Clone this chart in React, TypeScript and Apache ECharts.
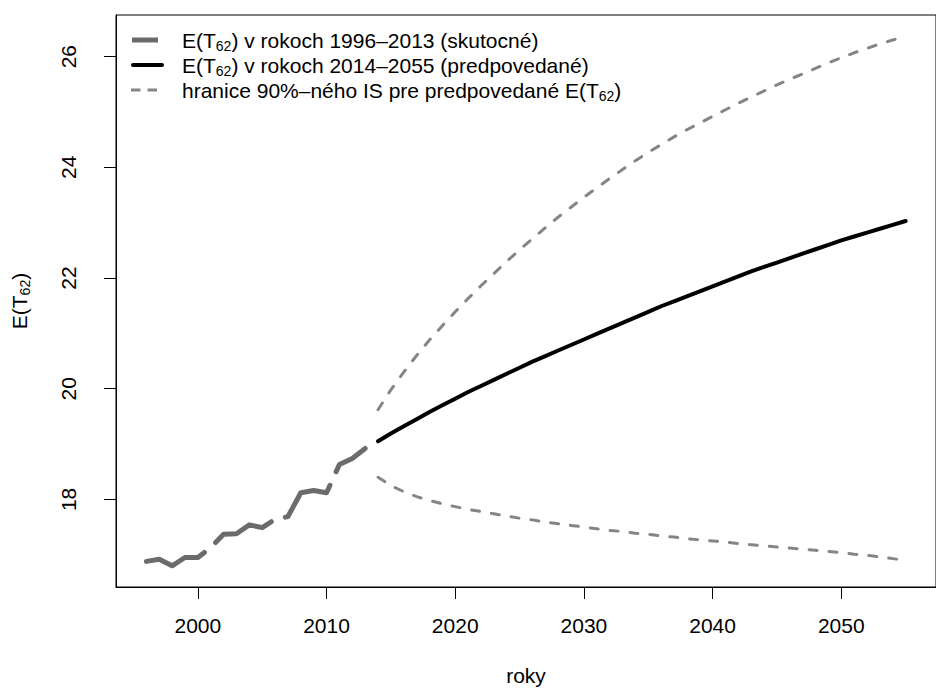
import { useEffect, useRef } from "react";
import * as echarts from "echarts";

const FONT = "'Liberation Sans', Arial, Helvetica, sans-serif";

// Observed life expectancy at 62, 1996–2013
const histYears = [
  1996, 1997, 1998, 1999, 2000, 2001, 2002, 2003, 2004, 2005, 2006, 2007,
  2008, 2009, 2010, 2011, 2012, 2013,
];
const histValues = [
  16.88, 16.92, 16.8, 16.95, 16.95, 17.13, 17.37, 17.38, 17.54, 17.49, 17.64,
  17.69, 18.12, 18.16, 18.12, 18.63, 18.74, 18.92,
];

// Forecast 2014–2055 with the bounds of the 90% interval
const forecastYears = [
  2014, 2015, 2016, 2017, 2018, 2019, 2020, 2021, 2022, 2023, 2024, 2025,
  2026, 2027, 2028, 2029, 2030, 2031, 2032, 2033, 2034, 2035, 2036, 2037,
  2038, 2039, 2040, 2041, 2042, 2043, 2044, 2045, 2046, 2047, 2048, 2049,
  2050, 2051, 2052, 2053, 2054, 2055,
];
const forecastMean = [
  19.05, 19.19, 19.32, 19.45, 19.58, 19.7, 19.82, 19.94, 20.05, 20.16, 20.27,
  20.38, 20.49, 20.59, 20.69, 20.79, 20.89, 20.99, 21.09, 21.19, 21.29, 21.39,
  21.49, 21.58, 21.67, 21.76, 21.85, 21.94, 22.03, 22.12, 22.2, 22.28, 22.36,
  22.44, 22.52, 22.6, 22.68, 22.75, 22.82, 22.89, 22.96, 23.03,
];
const forecastUpper = [
  19.62, 19.98, 20.3, 20.6, 20.88, 21.14, 21.39, 21.63, 21.86, 22.08, 22.3,
  22.51, 22.71, 22.91, 23.1, 23.28, 23.46, 23.63, 23.8, 23.96, 24.12, 24.27,
  24.41, 24.55, 24.68, 24.8, 24.92, 25.04, 25.16, 25.27, 25.38, 25.49, 25.59,
  25.69, 25.79, 25.89, 25.98, 26.07, 26.15, 26.23, 26.3, 26.37,
];
const forecastLower = [
  18.4, 18.25, 18.14, 18.05, 17.98, 17.92, 17.87, 17.82, 17.78, 17.74, 17.7,
  17.66, 17.63, 17.59, 17.56, 17.53, 17.5, 17.47, 17.44, 17.42, 17.39, 17.37,
  17.34, 17.32, 17.29, 17.27, 17.25, 17.23, 17.2, 17.18, 17.16, 17.14, 17.12,
  17.1, 17.08, 17.06, 17.04, 17.01, 16.99, 16.96, 16.93, 16.9,
];

const xTickValues = [2000, 2010, 2020, 2030, 2040, 2050];
const yTickValues = [18, 20, 22, 24, 26];

const legendTexts = [
  "E(T{sub|62}) v rokoch 1996–2013 (skutocné)",
  "E(T{sub|62}) v rokoch 2014–2055 (predpovedané)",
  "hranice 90%–ného IS pre predpovedané E(T{sub|62})",
];
const xAxisTitle = "roky";
const yAxisTitle = "E(T{sub|62})";

const HIST_COLOR = "#6b6b6b";
const MEAN_COLOR = "#000000";
const BOUND_COLOR = "#858585";

const pairs = (xs: number[], ys: number[]) => xs.map((x, i) => [x, ys[i]]);

// R-style axis extents: data range widened by 4% on each side
const padRange = (vals: number[]) => {
  const lo = Math.min(...vals);
  const hi = Math.max(...vals);
  const d = (hi - lo) * 0.04;
  return [lo - d, hi + d];
};

const subRich = {
  sub: {
    fontSize: 14,
    fontFamily: FONT,
    color: "#000",
    fill: "#000",
    padding: [11, 0, 0, 0],
  },
};

export default function App() {
  const ref = useRef<HTMLDivElement>(null);

  useEffect(() => {
    if (!ref.current) return;
    const chart = echarts.init(ref.current, undefined, { renderer: "svg" });

    const [xMin, xMax] = padRange([...histYears, ...forecastYears]);
    const [yMin, yMax] = padRange([
      ...histValues,
      ...forecastMean,
      ...forecastUpper,
      ...forecastLower,
    ]);

    const legendRows = [40, 65, 90];
    const legendLines: any[] = [
      {
        type: "line",
        shape: { x1: 132, y1: legendRows[0], x2: 158, y2: legendRows[0] },
        style: { stroke: HIST_COLOR, lineWidth: 5, lineCap: "butt" },
      },
      {
        type: "line",
        shape: { x1: 133, y1: legendRows[1], x2: 162, y2: legendRows[1] },
        style: { stroke: MEAN_COLOR, lineWidth: 4, lineCap: "round" },
      },
      {
        type: "line",
        shape: { x1: 131, y1: legendRows[2], x2: 158, y2: legendRows[2] },
        style: {
          stroke: BOUND_COLOR,
          lineWidth: 3,
          lineCap: "butt",
          lineDash: [9.5, 7],
        },
      },
    ];
    const legendLabels: any[] = legendTexts.map((t, i) => ({
      type: "text",
      x: 182,
      y: legendRows[i],
      style: {
        text: t,
        fontSize: 21,
        fontFamily: FONT,
        fill: "#000",
        align: "left",
        verticalAlign: "middle",
        rich: subRich,
      },
    }));

    chart.setOption({
      animation: false,
      textStyle: { fontFamily: FONT },
      grid: {
        left: 116,
        top: 15,
        width: 826,
        height: 576,
        show: true,
        borderColor: "#000",
        borderWidth: 1,
        backgroundColor: "transparent",
      },
      xAxis: {
        type: "value",
        min: xMin,
        max: xMax,
        name: xAxisTitle,
        nameLocation: "middle",
        nameGap: 78,
        nameTextStyle: { fontSize: 21, color: "#000", fontFamily: FONT },
        axisLine: { show: true, lineStyle: { color: "#000", width: 1 } },
        axisTick: {
          show: true,
          inside: false,
          length: 12,
          customValues: xTickValues,
          lineStyle: { color: "#000", width: 1 },
        },
        axisLabel: {
          customValues: xTickValues,
          formatter: (v: number) => String(v),
          fontSize: 21,
          color: "#000",
          fontFamily: FONT,
          margin: 28,
        },
        splitLine: { show: false },
      },
      yAxis: {
        type: "value",
        min: yMin,
        max: yMax,
        name: yAxisTitle,
        nameLocation: "middle",
        nameRotate: 90,
        nameGap: 84,
        nameTextStyle: {
          fontSize: 21,
          color: "#000",
          fontFamily: FONT,
          rich: subRich,
        },
        axisLine: { show: true, lineStyle: { color: "#000", width: 1 } },
        axisTick: {
          show: true,
          inside: false,
          length: 12,
          customValues: yTickValues,
          lineStyle: { color: "#000", width: 1 },
        },
        axisLabel: {
          customValues: yTickValues,
          formatter: (v: number) => String(v),
          rotate: 90,
          fontSize: 21,
          color: "#000",
          fontFamily: FONT,
          margin: 37,
        },
        splitLine: { show: false },
      },
      series: [
        {
          type: "line",
          name: "skutocné",
          data: pairs(histYears, histValues),
          symbol: "none",
          silent: true,
          lineStyle: {
            color: HIST_COLOR,
            width: 5,
            type: [64, 15],
            cap: "round",
            join: "round",
          },
        },
        {
          type: "line",
          name: "predpovedané",
          data: pairs(forecastYears, forecastMean),
          symbol: "none",
          silent: true,
          lineStyle: { color: MEAN_COLOR, width: 4, cap: "round", join: "round" },
        },
        {
          type: "line",
          name: "horná hranica",
          data: pairs(forecastYears, forecastUpper),
          symbol: "none",
          silent: true,
          lineStyle: { color: BOUND_COLOR, width: 3, type: [8, 12], cap: "round" },
        },
        {
          type: "line",
          name: "dolná hranica",
          data: pairs(forecastYears, forecastLower),
          symbol: "none",
          silent: true,
          lineStyle: { color: BOUND_COLOR, width: 3, type: [8, 12], cap: "round" },
        },
      ],
      graphic: [...legendLines, ...legendLabels],
    });

    return () => chart.dispose();
  }, []);

  return (
    <div
      ref={ref}
      style={{
        position: "absolute",
        left: 0,
        top: 0,
        width: 936,
        height: 691,
        background: "#fff",
      }}
    />
  );
}
